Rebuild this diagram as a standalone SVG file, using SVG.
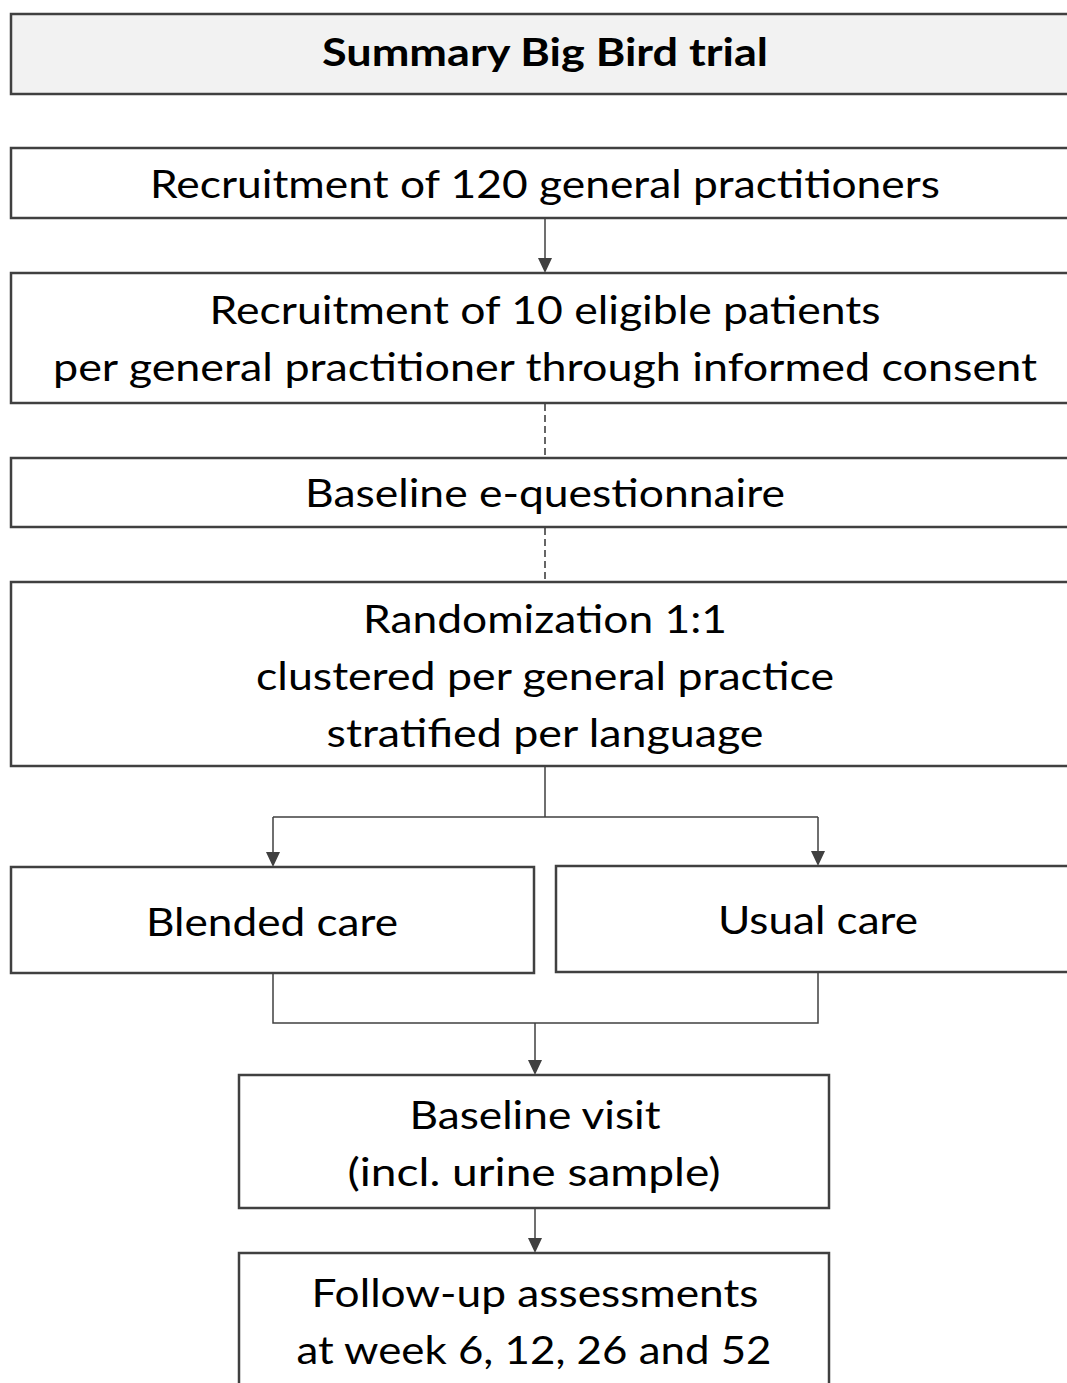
<svg xmlns="http://www.w3.org/2000/svg" width="1067" height="1383" viewBox="0 0 1067 1383">
  <style>
    .box { fill: #ffffff; stroke: #404040; stroke-width: 2.5; }
    .head { fill: #f2f2f2; stroke: #404040; stroke-width: 2.5; }
    .lbl { font-family: Lato, "Open Sans", "Liberation Sans", sans-serif; font-size: 39px; fill: #000000; text-anchor: middle; }
    .ttl { font-family: Lato, "Open Sans", "Liberation Sans", sans-serif; font-size: 39px; font-weight: bold; fill: #000000; text-anchor: middle; }
    .wire { fill: none; stroke: #404040; stroke-width: 1.5; }
    .dash { fill: none; stroke: #404040; stroke-width: 1.6; stroke-dasharray: 7 4; }
    .head-tip { fill: #404040; }
  </style>
  <rect width="1067" height="1383" fill="#ffffff"/>

  <g id="connectors">
    <!-- solid arrows and branch lines -->
    <path class="wire" d="M545,218 V258"/>
    <path class="head-tip" d="M538,258 L552,258 L545,273 Z"/>
    <path class="dash" d="M545,404 V458"/>
    <path class="dash" d="M545,528 V582"/>
    <path class="wire" d="M545,766 V817 M273,817 H818 M273,817 V852 M818,817 V851"/>
    <path class="head-tip" d="M266,852 L280,852 L273,867 Z"/>
    <path class="head-tip" d="M811,851 L825,851 L818,866 Z"/>
    <path class="wire" d="M273,973 V1023 H818 V972 M535,1023 V1060"/>
    <path class="head-tip" d="M528,1060 L542,1060 L535,1075 Z"/>
    <path class="wire" d="M535,1208 V1238"/>
    <path class="head-tip" d="M528,1238 L542,1238 L535,1253 Z"/>
  </g>

  <g id="title">
    <rect class="head" x="11" y="14" width="1080" height="80"/>
    <text class="ttl" x="545" y="66" textLength="446" lengthAdjust="spacingAndGlyphs">Summary Big Bird trial</text>
  </g>

  <g id="recruit-gp">
    <rect class="box" x="11" y="148" width="1080" height="70"/>
    <text class="lbl" x="545" y="198" textLength="790" lengthAdjust="spacingAndGlyphs">Recruitment of 120 general practitioners</text>
  </g>

  <g id="recruit-patients">
    <rect class="box" x="11" y="273" width="1080" height="130"/>
    <text class="lbl" x="545" y="324" textLength="671" lengthAdjust="spacingAndGlyphs">Recruitment of 10 eligible patients</text>
    <text class="lbl" x="545" y="381" textLength="984" lengthAdjust="spacingAndGlyphs">per general practitioner through informed consent</text>
  </g>

  <g id="baseline-questionnaire">
    <rect class="box" x="11" y="458" width="1080" height="69"/>
    <text class="lbl" x="545" y="507" textLength="480" lengthAdjust="spacingAndGlyphs">Baseline e-questionnaire</text>
  </g>

  <g id="randomization">
    <rect class="box" x="11" y="582" width="1080" height="184"/>
    <text class="lbl" x="545" y="633" textLength="364" lengthAdjust="spacingAndGlyphs">Randomization 1:1</text>
    <text class="lbl" x="545" y="690" textLength="578" lengthAdjust="spacingAndGlyphs">clustered per general practice</text>
    <text class="lbl" x="545" y="747" textLength="437" lengthAdjust="spacingAndGlyphs">stratified per language</text>
  </g>

  <g id="blended-care">
    <rect class="box" x="11" y="867" width="523" height="106"/>
    <text class="lbl" x="272" y="936" textLength="252" lengthAdjust="spacingAndGlyphs">Blended care</text>
  </g>

  <g id="usual-care">
    <rect class="box" x="556" y="866" width="520" height="106"/>
    <text class="lbl" x="818" y="934" textLength="200" lengthAdjust="spacingAndGlyphs">Usual care</text>
  </g>

  <g id="baseline-visit">
    <rect class="box" x="239" y="1075" width="590" height="133"/>
    <text class="lbl" x="535" y="1129" textLength="251" lengthAdjust="spacingAndGlyphs">Baseline visit</text>
    <text class="lbl" x="534" y="1186" textLength="373" lengthAdjust="spacingAndGlyphs">(incl. urine sample)</text>
  </g>

  <g id="follow-up">
    <rect class="box" x="239" y="1253" width="590" height="160"/>
    <text class="lbl" x="535" y="1307" textLength="447" lengthAdjust="spacingAndGlyphs">Follow-up assessments</text>
    <text class="lbl" x="534" y="1364" textLength="475" lengthAdjust="spacingAndGlyphs">at week 6, 12, 26 and 52</text>
  </g>
</svg>
